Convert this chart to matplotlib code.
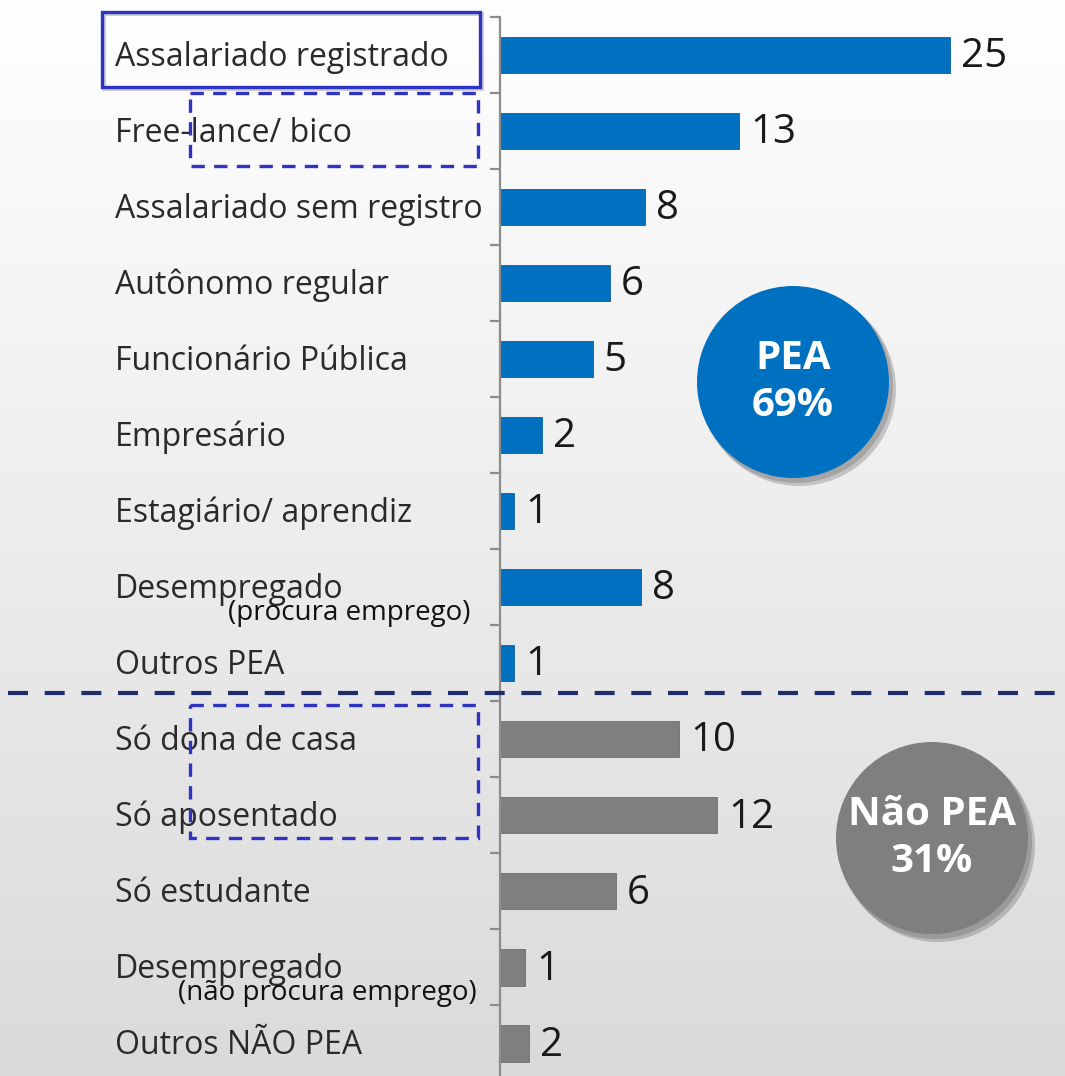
import numpy as np
import matplotlib
matplotlib.use("Agg")
import matplotlib.pyplot as plt
from matplotlib.patches import Circle, Rectangle

categories = ["Assalariado registrado", "Free-lance/ bico", "Assalariado sem registro",
              "Autônomo regular", "Funcionário Pública", "Empresário", "Estagiário/ aprendiz",
              "Desempregado", "Outros PEA", "Só dona de casa", "Só aposentado", "Só estudante",
              "Desempregado", "Outros NÃO PEA"]
# bar lengths (labels show them rounded)
values = [25.0, 13.3, 8.05, 6.1, 5.15, 2.35, 0.8, 7.85, 0.8, 9.95, 12.05, 6.45, 1.4, 1.6]
value_labels = ["25", "13", "8", "6", "5", "2", "1", "8", "1", "10", "12", "6", "1", "2"]
groups = ["PEA"] * 9 + ["NAO"] * 5
sublabels = {7: "(procura emprego)", 12: "(não procura emprego)"}
circle_texts = ["PEA\n69%", "Não PEA\n31%"]

BLUE = "#0070C0"
GRAY = "#7f7f7f"
FONT = "Open Sans"

W, H = 1065, 1076
fig = plt.figure(figsize=(W / 100, H / 100), dpi=100)

# background gradient
bg = fig.add_axes([0, 0, 1, 1], zorder=0)
grad = np.linspace(1.0, 0.855, 256).reshape(-1, 1)
bg.imshow(np.dstack([grad, grad, grad]), aspect="auto", extent=[0, 1, 0, 1], origin="upper")
bg.axis("off")

# main bar axes
ax = fig.add_axes([0, 0, 1, 1], zorder=1)
ax.patch.set_alpha(0)
y = np.arange(len(categories))
colors = [BLUE if g == "PEA" else GRAY for g in groups]
edges = ["#0a5e9e" if g == "PEA" else "#6e6e6e" for g in groups]
ax.barh(y, values, height=0.48, color=colors, edgecolor=edges, linewidth=0.6)
ax.set_xlim(-500 / 18, 565 / 18)
ax.set_ylim(13.43, -0.72)
for s in ["top", "right", "bottom"]:
    ax.spines[s].set_visible(False)
ax.spines["left"].set_position(("data", 0))
ax.spines["left"].set_bounds(-0.5, 13.43)
ax.spines["left"].set_color("#8c8c8c")
ax.spines["left"].set_linewidth(1.6)
ax.set_xticks([])
ax.set_yticks(np.arange(-0.5, 13.5, 1))
ax.set_yticklabels([])
ax.tick_params(axis="y", length=7, width=1.6, color="#8c8c8c", direction="out")

for i, (lab, v, vl) in enumerate(zip(categories, values, value_labels)):
    ax.text(-21.4, i + 0.03, lab, va="center", ha="left", fontsize=23, family=FONT, color="#2a2a2a")
    ax.annotate(vl, (v, i), xytext=(8, -1.5), textcoords="offset points",
                va="center", ha="left", fontsize=29, family=FONT, color="#1a1a1a")
for i, sub in sublabels.items():
    x0 = -15.1 if i == 7 else -17.9
    ax.text(x0, i + 0.34, sub, va="center", ha="left", fontsize=20, family=FONT, color="#111111")

# overlay for annotations in pixel space
ov = fig.add_axes([0, 0, 1, 1], zorder=2)
ov.patch.set_alpha(0)
ov.set_xlim(0, W)
ov.set_ylim(H, 0)
ov.axis("off")

for (cx, cy), col, txt in [((793, 382), BLUE, circle_texts[0]), ((932, 838), GRAY, circle_texts[1])]:
    ov.add_patch(Circle((cx + 6, cy + 7), 97, color="black", alpha=0.18, lw=0))
    ov.add_patch(Circle((cx + 3, cy + 4), 97, color="black", alpha=0.15, lw=0))
    ov.add_patch(Circle((cx, cy), 96, color=col, lw=0))
    ov.text(cx, cy, txt, ha="center", va="center", fontsize=29, fontweight="bold",
            family=FONT, color="white", linespacing=1.25)

BOXC = "#2E33C2"
ov.add_patch(Rectangle((104, 14), 378, 75, fill=False, ec="#888888", lw=3, alpha=0.4))
ov.add_patch(Rectangle((102, 12), 378, 75, fill=False, ec=BOXC, lw=2.4))
ov.add_patch(Rectangle((190, 93), 288, 73, fill=False, ec=BOXC, lw=2.4, ls=(0, (4, 2.8))))
ov.add_patch(Rectangle((190, 705), 288, 133, fill=False, ec=BOXC, lw=2.4, ls=(0, (4, 2.8))))
ov.plot([8, W], [693, 693], color="#1F2F6B", lw=3, ls=(0, (4.8, 4)))

fig.savefig("out.png", dpi=100)
